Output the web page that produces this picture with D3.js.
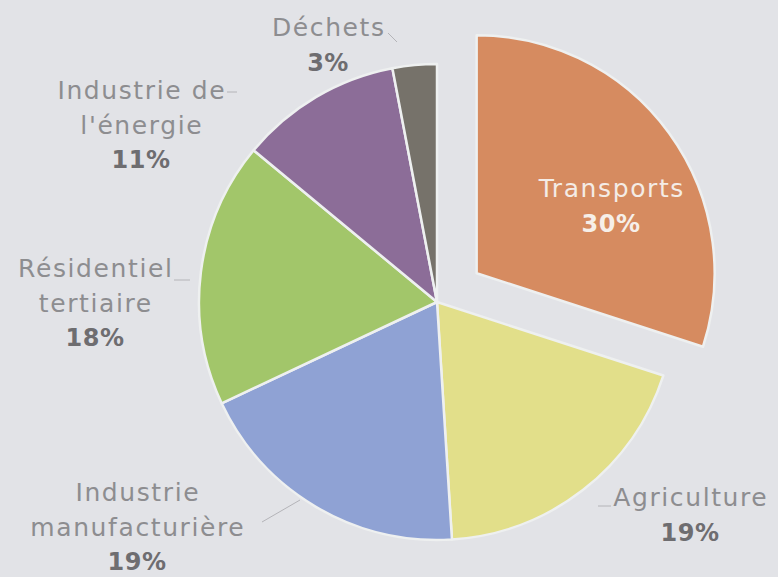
<!DOCTYPE html>
<html><head><meta charset="utf-8">
<script src="https://cdn.jsdelivr.net/npm/d3@7"></script>
<style>html,body{margin:0;padding:0;background:#e2e3e7;}svg{display:block;}</style>
</head><body>
<svg id="c" width="778" height="577"></svg>
<script>
const categories = ["Transports","Agriculture","Industrie manufacturière","Résidentiel tertiaire","Industrie de l'énergie","Déchets"];
const values = [30,19,19,18,11,3];
const labelLines = [["Transports"],["Agriculture"],["Industrie","manufacturière"],["Résidentiel","tertiaire"],["Industrie de","l'énergie"],["Déchets"]];
const percentLabels = ["30%","19%","19%","18%","11%","3%"];
const colors = ["#d68b60","#e2df8a","#8fa2d4","#a2c66a","#8c6d98","#76726a"];

const W=778,H=577, cx=437, cy=302, R=238, explode=[49,0,0,0,0,0];
// label anchor (centre x, first-line baseline y) per category
const labelPos = [[611,197],[690,506],[137,501],[95,277],[141,99],[328,36]];
const lineH = 34.5;

const svg = d3.select("#c");
svg.append("rect").attr("width",W).attr("height",H).attr("fill","#e2e3e7");
const g = svg.append("g").attr("transform",`translate(${cx},${cy})`);
const pie = d3.pie().sort(null).value(d=>d.v);
const data = pie(categories.map((c,i)=>({c,v:values[i],i})));
const arc = d3.arc().innerRadius(0).outerRadius(R);
g.selectAll("path").data(data).join("path")
  .attr("d",arc)
  .attr("fill",d=>colors[d.data.i])
  .attr("stroke","#eef0f0").attr("stroke-width",2.5).attr("stroke-linejoin","round")
  .attr("transform",d=>{const m=(d.startAngle+d.endAngle)/2, e=explode[d.data.i];
     return `translate(${Math.sin(m)*e},${-Math.cos(m)*e})`;});

// leader lines (faint)
const leaders=[null,[[598,506],[611,506]],[[262,522],[300,500]],[[174,280],[190,280]],[[227,92],[237,92]],[[388,33],[397,42]]];
leaders.forEach(l=>{ if(!l) return;
  svg.append("path").attr("d",d3.line()(l)).attr("stroke","#b4b4b8").attr("stroke-width",1).attr("fill","none");});

const font="'DejaVu Sans', sans-serif";
categories.forEach((c,i)=>{
  const [x,y]=labelPos[i];
  const inside = i===0;
  const t = svg.append("text").attr("text-anchor","middle").attr("font-family",font);
  labelLines[i].forEach((ln,k)=>{
    t.append("tspan").attr("x",x+0.8).attr("y",y+k*lineH).text(ln)
      .attr("font-size",25).attr("letter-spacing",1.6)
      .attr("fill",inside?"#f4ece6":"#8d8d90").attr("font-weight","normal");
  });
  t.append("tspan").attr("x",x).attr("y",y+labelLines[i].length*lineH).text(percentLabels[i])
    .attr("font-size",24).attr("letter-spacing",0.5)
    .attr("fill",inside?"#f6efe9":"#6e6d70").attr("font-weight","bold");
});
</script>
</body></html>
